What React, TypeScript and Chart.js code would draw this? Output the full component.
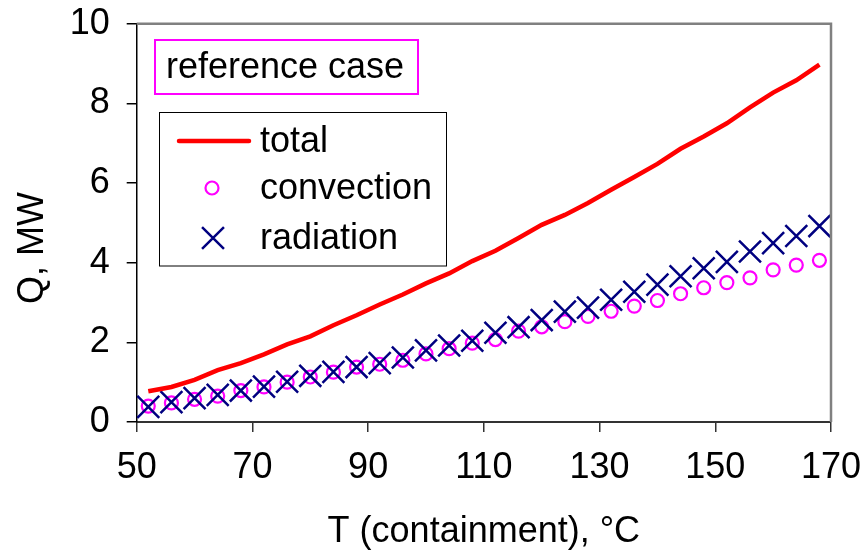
import React, { useEffect, useRef } from "react";
import { Chart, registerables } from "chart.js";

Chart.register(...registerables);

// ---- data ----
const temperatures = [52, 56, 60, 64, 68, 72, 76, 80, 84, 88, 92, 96, 100, 104, 108, 112, 116, 120, 124, 128, 132, 136, 140, 144, 148, 152, 156, 160, 164, 168];
const totalQ = [0.77, 0.88, 1.06, 1.3, 1.48, 1.7, 1.95, 2.15, 2.43, 2.68, 2.95, 3.2, 3.48, 3.73, 4.04, 4.3, 4.62, 4.95, 5.2, 5.5, 5.83, 6.15, 6.48, 6.86, 7.17, 7.5, 7.9, 8.27, 8.58, 8.97];
const convectionQ = [0.4, 0.48, 0.57, 0.65, 0.79, 0.88, 1.0, 1.13, 1.25, 1.38, 1.45, 1.55, 1.71, 1.84, 1.98, 2.07, 2.28, 2.39, 2.52, 2.65, 2.78, 2.91, 3.05, 3.22, 3.37, 3.5, 3.62, 3.82, 3.94, 4.06];
const radiationQ = [0.38, 0.5, 0.6, 0.68, 0.79, 0.89, 1.01, 1.16, 1.26, 1.38, 1.48, 1.62, 1.8, 1.92, 2.04, 2.24, 2.38, 2.56, 2.77, 2.87, 3.07, 3.27, 3.45, 3.66, 3.86, 4.02, 4.28, 4.49, 4.67, 4.92];
const seriesLabels = ["total", "convection", "radiation"];
const xTicks = [50, 70, 90, 110, 130, 150, 170];
const yTicks = [0, 2, 4, 6, 8, 10];
const xTitle = "T (containment), °C";
const yTitle = "Q, MW";
const noteText = "reference case";

const FONT = "'Liberation Sans', Arial, sans-serif";

const overlayPlugin = {
  id: "overlay",
  afterDatasetsDraw(chart: any) {
    const { ctx, chartArea: a } = chart;
    const ds = chart.data.datasets;
    ctx.save();
    // top/right frame
    ctx.strokeStyle = "#808080";
    ctx.lineWidth = 2.5;
    ctx.beginPath();
    ctx.moveTo(a.left, a.top);
    ctx.lineTo(a.right, a.top);
    ctx.lineTo(a.right, a.bottom);
    ctx.stroke();

    ctx.font = `36px ${FONT}`;
    ctx.textBaseline = "middle";
    ctx.textAlign = "left";

    // note box
    ctx.fillStyle = "#ffffff";
    ctx.fillRect(155, 40, 263, 54);
    ctx.strokeStyle = "#ff00ff";
    ctx.lineWidth = 2;
    ctx.strokeRect(155, 40, 263, 54);
    ctx.fillStyle = "#000000";
    ctx.fillText(noteText, 166, 68);

    // legend box
    ctx.fillStyle = "#ffffff";
    ctx.fillRect(159.5, 112.5, 287, 153.5);
    ctx.strokeStyle = "#000000";
    ctx.lineWidth = 1;
    ctx.strokeRect(159.5, 112.5, 287, 153.5);

    const rows = [141, 188, 238];
    // total line
    ctx.strokeStyle = ds[0].borderColor;
    ctx.lineWidth = ds[0].borderWidth;
    ctx.lineCap = "round";
    ctx.beginPath();
    ctx.moveTo(179, rows[0]);
    ctx.lineTo(249, rows[0]);
    ctx.stroke();
    ctx.lineCap = "butt";
    // convection circle
    ctx.strokeStyle = ds[1].borderColor;
    ctx.lineWidth = ds[1].borderWidth;
    ctx.beginPath();
    ctx.arc(212, rows[1], ds[1].pointRadius, 0, Math.PI * 2);
    ctx.stroke();
    // radiation cross
    const h = ds[2].pointRadius * Math.SQRT1_2;
    ctx.strokeStyle = ds[2].borderColor;
    ctx.lineWidth = ds[2].borderWidth;
    ctx.beginPath();
    ctx.moveTo(213 - h, rows[2] - h);
    ctx.lineTo(213 + h, rows[2] + h);
    ctx.moveTo(213 - h, rows[2] + h);
    ctx.lineTo(213 + h, rows[2] - h);
    ctx.stroke();

    ctx.fillStyle = "#000000";
    seriesLabels.forEach((lbl, i) => ctx.fillText(lbl, 260, rows[i] + 1));

    // y axis title
    ctx.save();
    ctx.translate(33, 248);
    ctx.rotate(-Math.PI / 2);
    ctx.textAlign = "center";
    ctx.fillText(yTitle, 0, 0);
    ctx.restore();

    ctx.restore();
  },
};

export default function App() {
  const ref = useRef<HTMLCanvasElement | null>(null);
  useEffect(() => {
    if (!ref.current) return;
    const chart = new Chart(ref.current, {
      type: "scatter",
      data: {
        datasets: [
          {
            label: seriesLabels[0],
            data: temperatures.map((t, i) => ({ x: t, y: totalQ[i] })),
            showLine: true,
            borderColor: "#ff0000",
            backgroundColor: "#ff0000",
            borderWidth: 4.5,
            pointRadius: 0,
            tension: 0,
            order: 0,
          },
          {
            label: seriesLabels[1],
            data: temperatures.map((t, i) => ({ x: t, y: convectionQ[i] })),
            showLine: false,
            pointStyle: "circle",
            pointRadius: 6.5,
            borderColor: "#ff00ff",
            backgroundColor: "rgba(0,0,0,0)",
            borderWidth: 2.2,
            order: 2,
          },
          {
            label: seriesLabels[2],
            data: temperatures.map((t, i) => ({ x: t, y: radiationQ[i] })),
            showLine: false,
            pointStyle: "crossRot",
            pointRadius: 15.5,
            borderColor: "#000080",
            backgroundColor: "#000080",
            borderWidth: 2.5,
            order: 1,
          },
        ],
      },
      options: {
        animation: false,
        responsive: false,
        devicePixelRatio: 1,
        layout: { padding: { top: 23.7, right: 33, left: 0, bottom: 0 } },
        plugins: { legend: { display: false }, tooltip: { enabled: false } },
        scales: {
          x: {
            type: "linear",
            min: 50,
            max: 170,
            afterBuildTicks: (s: any) => {
              s.ticks = xTicks.map((v) => ({ value: v }));
            },
            afterFit: (s: any) => {
              s.height = 132;
              s.paddingLeft = 0;
              s.paddingRight = 0;
            },
            grid: { drawOnChartArea: false, tickLength: 10, color: "#333", lineWidth: 1.5 },
            border: { color: "#333", width: 2 },
            ticks: { color: "#000", font: { family: FONT, size: 36 }, padding: 14, maxRotation: 0 },
            title: { display: true, text: xTitle, color: "#000", font: { family: FONT, size: 36 }, padding: { top: 0, bottom: 0 } },
          },
          y: {
            type: "linear",
            min: 0,
            max: 10,
            afterBuildTicks: (s: any) => {
              s.ticks = yTicks.map((v) => ({ value: v }));
            },
            afterFit: (s: any) => {
              s.width = 136.7;
              s.paddingTop = 0;
              s.paddingBottom = 0;
            },
            grid: { drawOnChartArea: false, tickLength: 10, color: "#000", lineWidth: 1.5 },
            border: { color: "#000", width: 1.5 },
            ticks: { color: "#000", font: { family: FONT, size: 36 }, padding: 17 },
            title: { display: false },
          },
        },
      },
      plugins: [overlayPlugin],
    });
    return () => chart.destroy();
  }, []);
  return (
    <div style={{ position: "fixed", left: 0, top: 0, width: 864, height: 554, background: "#fff" }}>
      <canvas ref={ref} width={864} height={554} style={{ width: 864, height: 554, display: "block" }} />
    </div>
  );
}
